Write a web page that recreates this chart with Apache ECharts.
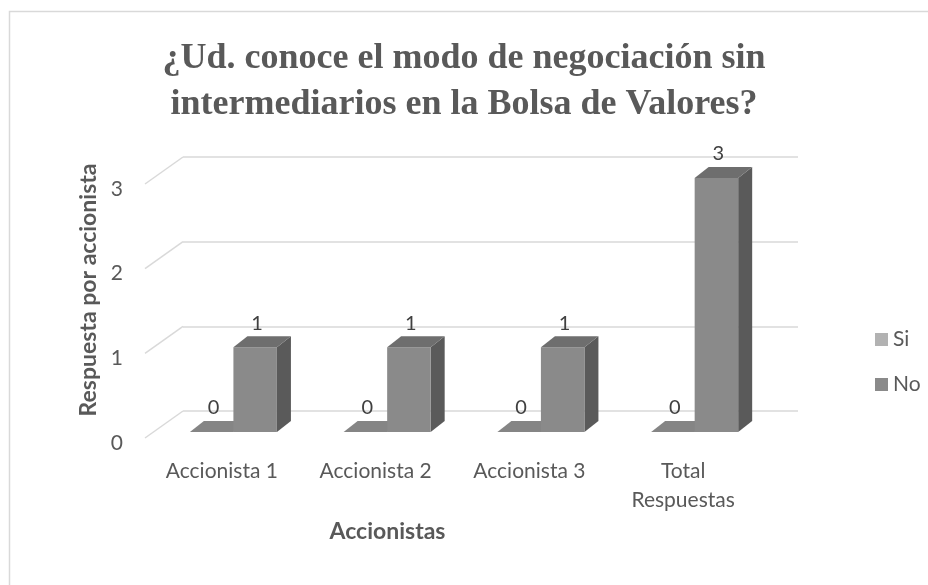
<!DOCTYPE html>
<html>
<head>
<meta charset="utf-8">
<script src="https://cdn.jsdelivr.net/npm/echarts@6/dist/echarts.min.js"></script>
<style>
  html, body { margin: 0; padding: 0; background: #fff; }
  #main { width: 928px; height: 585px; }
</style>
</head>
<body>
<div id="main"></div>
<script>
// datos del gráfico
const categorias = ["Accionista 1", "Accionista 2", "Accionista 3", "Total\nRespuestas"];
const valoresSi = [0, 0, 0, 0];
const valoresNo = [1, 1, 1, 3];
const ticksY = [0, 1, 2, 3];

const FUENTE = "Lato, 'Open Sans', sans-serif";
const GRIS = "#595959";

// profundidad (efecto 3D)
const WX = 38, WY = -27;  // pared / piso
const DX = 14, DY = -11;  // barra
const BX = 8, BY = -6;    // barra dentro del piso

const coloresSi = { frente: "#b2b2b2", lado: "#7a7a7a", arriba: "#858585" };
const coloresNo = { frente: "#8a8a8a", lado: "#5a5a5a", arriba: "#6e6e6e" };

function barra3d(api, col, segunda) {
  const idx = api.value(0);
  const val = api.value(1);
  const base = api.coord([idx, 0]);
  const tope = api.coord([idx, val]);
  const band = api.size([1, 0])[0];
  const w = band * 0.283;
  const x0 = base[0] - band * 0.26 + BX + (segunda ? w : 0);
  const yb = base[1] + BY;
  const yt = tope[1] + BY;
  return {
    type: "group",
    children: [
      {
        type: "polygon",
        shape: { points: [[x0 + w, yt], [x0 + w + DX, yt + DY], [x0 + w + DX, yb + DY], [x0 + w, yb]] },
        style: { fill: col.lado }
      },
      {
        type: "rect",
        shape: { x: x0, y: yt, width: w, height: yb - yt },
        style: { fill: col.frente }
      },
      {
        type: "polygon",
        shape: { points: [[x0, yt], [x0 + DX, yt + DY], [x0 + w + DX, yt + DY], [x0 + w, yt]] },
        style: { fill: col.arriba }
      },
      {
        type: "text",
        style: {
          text: String(val),
          x: x0 + w / 2 + 2,
          y: yt + DY - 13,
          align: "center",
          verticalAlign: "middle",
          fill: "#404040",
          font: "20px " + FUENTE
        }
      }
    ]
  };
}

const chart = echarts.init(document.getElementById("main"));

const option = {
  backgroundColor: "#fff",
  animation: false,
  title: {
    text: "¿Ud. conoce el modo de negociación sin\nintermediarios en la Bolsa de Valores?",
    left: "center",
    top: 31,
    textStyle: {
      fontFamily: "'Liberation Serif', 'Times New Roman', serif",
      fontWeight: "bold",
      fontSize: 36,
      lineHeight: 46,
      color: GRIS
    }
  },
  legend: {
    orient: "vertical",
    left: 870,
    top: 324,
    itemWidth: 13,
    itemHeight: 13,
    itemGap: 24,
    icon: "rect",
    data: ["Si", "No"],
    textStyle: { fontFamily: FUENTE, fontSize: 21, color: GRIS }
  },
  grid: [
    { left: 145, top: 184, width: 615, height: 254 },   // plano frontal
    { left: 183, top: 157, width: 615, height: 254 }    // pared del fondo
  ],
  xAxis: [
    {
      type: "category",
      gridIndex: 0,
      data: categorias,
      axisLine: { show: false },
      axisTick: { show: false },
      axisLabel: {
        margin: 19,
        interval: 0,
        color: GRIS,
        fontFamily: FUENTE,
        fontSize: 21,
        lineHeight: 29
      },
      name: "Accionistas",
      nameLocation: "middle",
      nameGap: 82,
      nameTextStyle: {
        fontFamily: FUENTE,
        fontWeight: "bold",
        fontSize: 23,
        color: GRIS,
        padding: [0, 130, 0, 0]
      }
    },
    {
      type: "category",
      gridIndex: 1,
      data: categorias,
      show: false
    }
  ],
  yAxis: [
    {
      type: "value",
      gridIndex: 0,
      min: 0,
      max: 3,
      interval: 1,
      axisLine: { show: false },
      axisTick: { show: false },
      splitLine: { show: false },
      axisLabel: {
        margin: 22,
        color: GRIS,
        fontFamily: FUENTE,
        fontSize: 21,
        verticalAlign: "top",
        lineHeight: 10
      },
      name: "Respuesta por accionista",
      nameLocation: "middle",
      nameGap: 44,
      nameTextStyle: {
        fontFamily: FUENTE,
        fontWeight: "bold",
        fontSize: 23,
        color: GRIS,
        verticalAlign: "bottom",
        lineHeight: 23,
        padding: [0, 0, 0, 42]
      }
    },
    {
      type: "value",
      gridIndex: 1,
      min: 0,
      max: 3,
      interval: 1,
      axisLine: { show: false },
      axisTick: { show: false },
      axisLabel: { show: false },
      splitLine: { show: true, lineStyle: { color: "#d9d9d9", width: 1.5 } }
    }
  ],
  graphic: [
    {
      type: "rect",
      shape: { x: 9.5, y: 11.5, width: 1000, height: 1000 },
      style: { fill: "none", stroke: "#d9d9d9", lineWidth: 1.5 },
      silent: true
    }
  ],
  series: [
    {
      // diagonales de la pared lateral
      type: "custom",
      xAxisIndex: 0,
      yAxisIndex: 0,
      silent: true,
      data: ticksY.map(v => [0, v]),
      renderItem: function (params, api) {
        const p = api.coord([0, api.value(1)]);
        const band = api.size([1, 0])[0];
        const x = p[0] - band / 2;
        return {
          type: "line",
          shape: { x1: x, y1: p[1], x2: x + WX, y2: p[1] + WY },
          style: { stroke: "#d9d9d9", lineWidth: 1.5 }
        };
      }
    },
    {
      name: "Si",
      type: "custom",
      xAxisIndex: 0,
      yAxisIndex: 0,
      itemStyle: { color: coloresSi.frente },
      data: valoresSi.map((v, i) => [i, v]),
      renderItem: function (params, api) {
        return barra3d(api, coloresSi, false);
      }
    },
    {
      name: "No",
      type: "custom",
      xAxisIndex: 0,
      yAxisIndex: 0,
      itemStyle: { color: coloresNo.frente },
      data: valoresNo.map((v, i) => [i, v]),
      renderItem: function (params, api) {
        return barra3d(api, coloresNo, true);
      }
    }
  ]
};

chart.setOption(option);
window.addEventListener("resize", () => chart.resize());
</script>
</body>
</html>
